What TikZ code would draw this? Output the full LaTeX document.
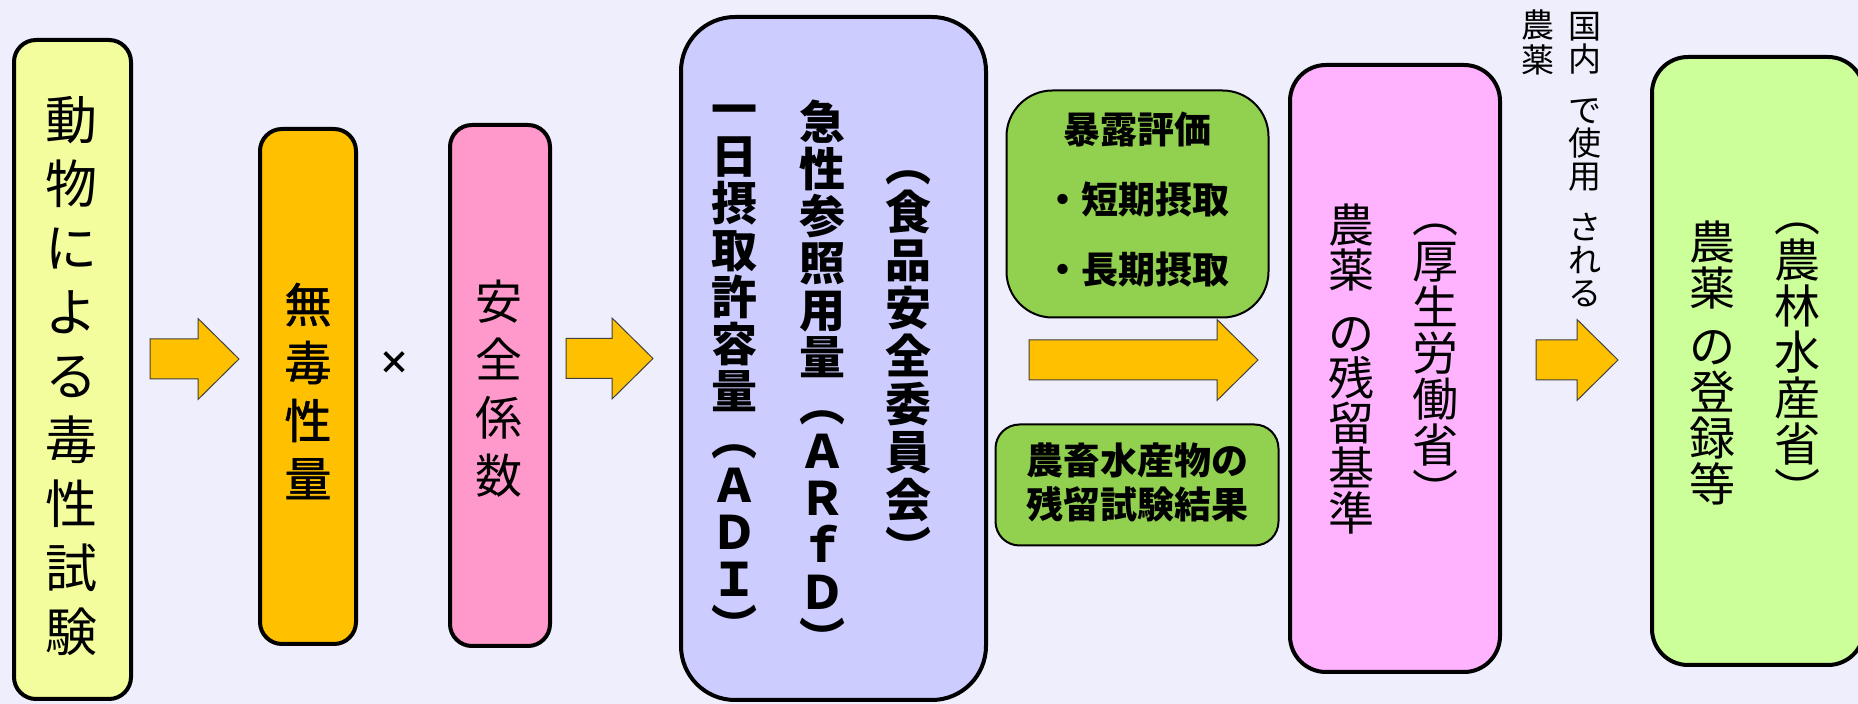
\documentclass[tikz,border=0pt]{standalone}
\usepackage{fontspec}
\newfontfamily\jp{Noto Sans CJK JP}
\newfontfamily\jpmed[FakeBold=1.3]{Noto Sans CJK JP}
\lineskiplimit=-20pt
\definecolor{bgcol}{RGB}{238,238,252}
\definecolor{yellowbox}{RGB}{243,253,157}
\definecolor{orangebox}{RGB}{255,192,0}
\definecolor{pinkbox}{RGB}{255,153,204}
\definecolor{lavbox}{RGB}{204,204,255}
\definecolor{greenbox}{RGB}{146,208,80}
\definecolor{magbox}{RGB}{255,179,255}
\definecolor{limebox}{RGB}{204,255,153}
\tikzset{
  pics/fatarrow/.style={code={%
    \draw[arrowbody] (0,-20) -- (#1-41,-20) -- (#1-41,-40.5) -- (#1,0)
      -- (#1-41,40.5) -- (#1-41,20) -- (0,20) -- cycle;}},
}
\begin{document}
\begin{tikzpicture}[x=0.5pt,y=-0.5pt,
    box/.style={draw=black,line width=2pt,rounded corners=#1,inner sep=0pt},
    thinbox/.style={draw=black,line width=1pt,rounded corners=#1,inner sep=0pt},
    arrowbody/.style={fill=orangebox,draw=black!75,line width=0.5pt},
    tate/.style 2 args={align=center,inner sep=0pt,
      font=\jp\fontsize{#1}{#2}\selectfont},
    tatem/.style 2 args={align=center,inner sep=0pt,
      font=\jpmed\fontsize{#1}{#2}\selectfont},
    tateb/.style 2 args={align=center,inner sep=0pt,
      font=\jp\bfseries\fontsize{#1}{#2}\selectfont}]
  \fill[bgcol] (0,0) rectangle (1858,704);
  \useasboundingbox (0,0) rectangle (1858,704);
  %
  \node[box=11pt,fill=yellowbox,minimum width=58.5pt,minimum height=329.5pt] (tox) at (72.5,369.5) {};
  \node[box=11pt,fill=orangebox,minimum width=48pt,minimum height=257.5pt] (noael) at (308,386.5) {};
  \node[box=11pt,fill=pinkbox,minimum width=50pt,minimum height=260.5pt] (sf) at (500,385.5) {};
  \node[box=27pt,fill=lavbox,minimum width=152.5pt,minimum height=341.5pt] (adi) at (833.5,358.5) {};
  \node[thinbox=23pt,fill=greenbox,minimum width=131pt,minimum height=113.5pt] (expo) at (1137.5,204) {};
  \node[thinbox=12pt,fill=greenbox,minimum width=141.5pt,minimum height=60.5pt] (resid) at (1137,485) {};
  \node[box=18pt,fill=magbox,minimum width=105pt,minimum height=303.5pt] (mrl) at (1395,368.5) {};
  \node[box=18pt,fill=limebox,minimum width=106pt,minimum height=304pt] (reg) at (1758,361) {};
  %
  \node[tate={26}{32}] (toxtxt) at (71,376) {動\\物\\に\\よ\\る\\毒\\性\\試\\験};
  \node[tatem={23.5}{29}] (noaeltxt) at (308,391) {無\\毒\\性\\量};
  \node[tateb={16}{16}] (times) at (394,363) {×};
  \node[tate={23.5}{29}] (sftxt) at (499,389) {安\\全\\係\\数};
  %
  \node[tateb={23}{23.5}] (aditxt) at (734,374) {一\\日\\摂\\取\\許\\容\\量\\︵\\Ａ\\Ｄ\\Ｉ\\︶};
  \node[tateb={23}{23.5}] (arfdtxt) at (822,378) {急\\性\\参\\照\\用\\量\\︵\\Ａ\\Ｒ\\ｆ\\Ｄ\\︶};
  \node[tateb={23}{24}] (fscjtxt) at (908,368) {︵\\食\\品\\安\\全\\委\\員\\会\\︶};
  %
  \node[tateb={18.5}{35}] (expotxt) at (1137,200) {暴露評価\\・短期摂取\\・長期摂取};
  \node[tateb={18.5}{22}] (residtxt) at (1137,482) {農畜水産物の\\残留試験結果};
  %
  \node[tate={23}{22.5}] (mrltxt) at (1351,369) {農\\薬\\[9pt]の\\残\\留\\基\\準};
  \node[tate={23}{23}] (mhlwtxt) at (1435,366) {︵\\厚\\生\\労\\働\\省\\︶};
  \node[tate={23}{23}] (regtxt) at (1712,363) {農\\薬\\[6pt]の\\登\\録\\等};
  \node[tate={23}{23}] (mafftxt) at (1797,365) {︵\\農\\林\\水\\産\\省\\︶};
  %
  \node[tate={16.5}{16.5}] (usetxt) at (1585,160) {国\\内\\[9pt]で\\使\\用\\[9pt]さ\\れ\\る};
  \node[tate={16.5}{17.5}] (agrotxt) at (1538,42) {農\\薬};
  %
  \coordinate (a1) at (150,359);
  \coordinate (a2) at (566,358.5);
  \coordinate (a3) at (1029,360);
  \coordinate (a4) at (1536,360);
  \pic at (a1) {fatarrow=89};
  \pic at (a2) {fatarrow=87};
  \pic at (a3) {fatarrow=229};
  \pic at (a4) {fatarrow=82};
\end{tikzpicture}
\end{document}
